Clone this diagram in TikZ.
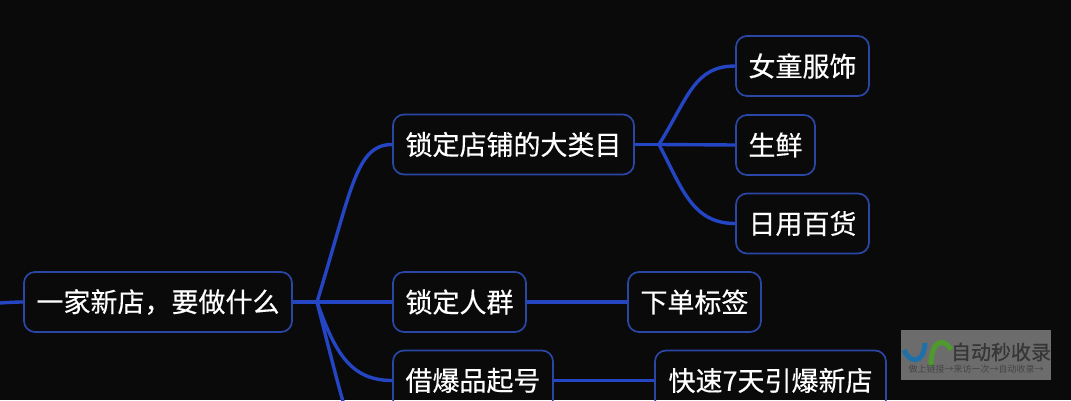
\documentclass[tikz,border=0pt]{standalone}
\usepackage{fontspec}
\newfontfamily\cjk[FakeBold=0.35]{Noto Sans CJK SC}
\newfontfamily\cjkwm[FakeBold=0.8]{Noto Sans CJK SC}
\newfontfamily\cjkplain{Noto Sans CJK SC}
\definecolor{bgc}{HTML}{0A0A0B}
\definecolor{linkc}{HTML}{2445C4}
\definecolor{edgec}{HTML}{2A47A6}
\definecolor{wmgray}{HTML}{6C6C6C}
\definecolor{wmtext}{HTML}{363636}
\definecolor{wmsubc}{HTML}{444444}
\definecolor{wmblue}{HTML}{1F6FA8}
\definecolor{wmgreen}{HTML}{4E9A2E}
\tikzset{
 topic/.style={draw=edgec,line width=1.7pt,rounded corners=11pt,minimum height=60pt,inner sep=0pt,text=white,font=\cjk\fontsize{27}{27}\selectfont},
 link/.style={draw=linkc,line width=3.4pt},
 wmmark/.style={line width=5pt},
}
\begin{document}
\begin{tikzpicture}[x=1pt,y=-1pt]
\useasboundingbox (0,0) rectangle (1071,400);
\fill[bgc] (0,0) rectangle (1071,400);
\begin{scope}
\clip (0,0) rectangle (1071,400);
\node[topic,minimum width=268pt] (root) at (158,302) {一家新店，要做什么};
\node[topic,minimum width=241pt] (a) at (513.5,144.5) {锁定店铺的大类目};
\node[topic,minimum width=133pt] (b) at (459.5,302) {锁定人群};
\node[topic,minimum width=160pt] (c) at (473,380.5) {借爆品起号};
\node[topic,minimum width=133pt] (a1) at (802.5,66) {女童服饰};
\node[topic,minimum width=79pt] (a2) at (775.5,145) {生鲜};
\node[topic,minimum width=133pt] (a3) at (802.5,223.5) {日用百货};
\node[topic,minimum width=133pt] (b1) at (694.5,302) {下单标签};
\node[topic,minimum width=231pt] (c1) at (770.5,380.5) {快速7天引爆新店};
\coordinate (rootin) at (0,303);
\coordinate (j1) at (317,302);
\coordinate (j2) at (659,144.5);
\coordinate (off) at (346,412);
\draw[link] (rootin) .. controls (8,302.5) and (15,302) .. (root.west);
\draw[link] (root.east) -- (j1);
\draw[link] (j1) .. controls (352,188) and (356,144.5) .. (a.west);
\draw[link] (j1) -- (b.west);
\draw[link] (j1) .. controls (335,352) and (350,380.5) .. (c.west);
\draw[link] (j1) .. controls (328,345) and (338,385) .. (off);
\draw[link] (a.east) -- (j2);
\draw[link] (j2) .. controls (688,98) and (694,66) .. (a1.west);
\draw[link] (j2) -- (a2.west);
\draw[link] (j2) .. controls (682,188) and (692,223.5) .. (a3.west);
\draw[link] (b.east) -- (b1.west);
\draw[link] (c.east) -- (c1.west);
\end{scope}
\fill[wmgray] (901,330) rectangle (1051,380);
\draw[wmblue,wmmark] (904,350) .. controls (910,364) and (924,364) .. (925,343);
\draw[wmgreen,wmmark] (931,366) .. controls (931,338) and (945,338) .. (951,350);
\node[text=wmtext,inner sep=0pt,font=\cjkwm\fontsize{20}{20}\selectfont] (wm) at (1001,352) {自动秒收录};
\node[text=wmsubc,inner sep=0pt,font=\cjkplain\fontsize{9}{9}\selectfont] (wmsub) at (976,369) {做上链接→来访一次→自动收录→};
\end{tikzpicture}
\end{document}
